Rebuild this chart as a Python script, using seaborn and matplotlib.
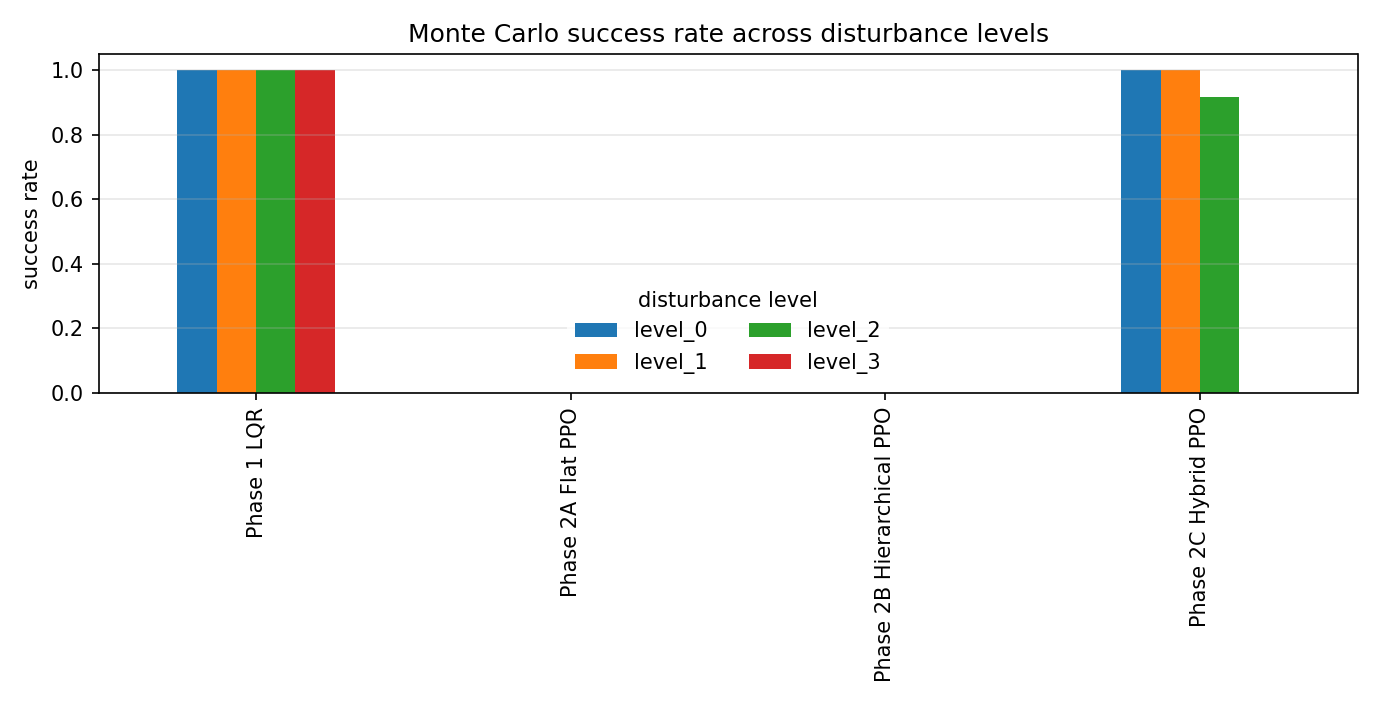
import matplotlib
matplotlib.use("Agg")
import matplotlib.pyplot as plt
import seaborn as sns
import pandas as pd

# controllers and success rates per disturbance level
controllers = ['Phase 1 LQR', 'Phase 2A Flat PPO', 'Phase 2B Hierarchical PPO', 'Phase 2C Hybrid PPO']
levels = ['level_0', 'level_1', 'level_2', 'level_3']
level_0 = [1.0, 0.0, 0.0, 1.0]
level_1 = [1.0, 0.0, 0.0, 1.0]
level_2 = [1.0, 0.0, 0.0, 0.9167]
level_3 = [1.0, 0.0, 0.0, 0.0]

colors = ['#1f77b4', '#ff7f0e', '#2ca02c', '#d62728']

# long form table for seaborn
rows = []
for lvl, vals in zip(levels, [level_0, level_1, level_2, level_3]):
    for c, v in zip(controllers, vals):
        rows.append({'controller': c, 'level': lvl, 'success': v})
df = pd.DataFrame(rows)

fig, ax = plt.subplots(figsize=(9.2, 4.7), dpi=150)
sns.barplot(data=df, x='controller', y='success', hue='level',
            order=controllers, hue_order=levels, palette=colors,
            width=0.5, errorbar=None, linewidth=0, saturation=1, ax=ax)

ax.set_title('Monte Carlo success rate across disturbance levels')
ax.set_xlabel('')
ax.set_ylabel('success rate')
ax.tick_params(axis='x', labelrotation=90)
ax.grid(axis='y', alpha=0.3)
ax.set_xlim(-0.5, len(controllers) - 0.5)
ax.set_ylim(0, 1.05)

sns.move_legend(ax, 'lower center', ncol=2, title='disturbance level', frameon=True)
leg = ax.get_legend()
leg.get_frame().set_edgecolor('none')

plt.tight_layout()
plt.savefig('out.png', dpi=150)
